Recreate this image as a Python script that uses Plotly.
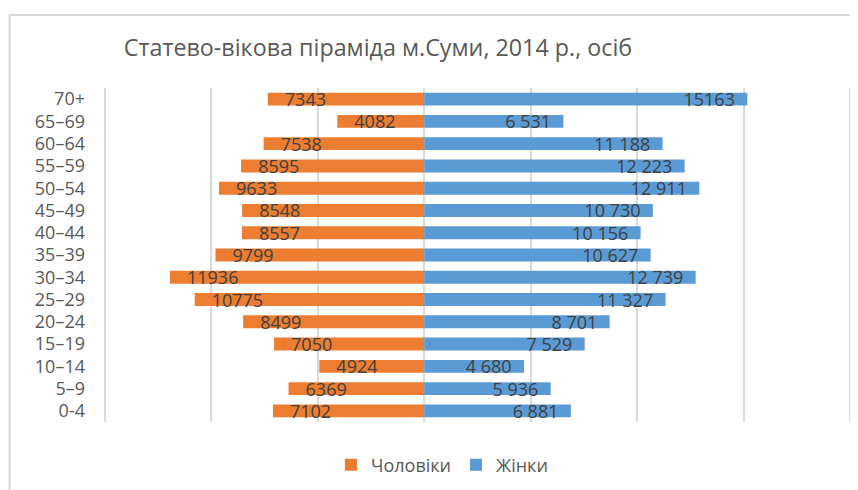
import plotly.graph_objects as go

age_groups = ["0-4", "5–9", "10–14", "15–19", "20–24", "25–29", "30–34", "35–39",
              "40–44", "45–49", "50–54", "55–59", "60–64", "65–69", "70+"]
men = [7102, 6369, 4924, 7050, 8499, 10775, 11936, 9799,
       8557, 8548, 9633, 8595, 7538, 4082, 7343]
women = [6881, 5936, 4680, 7529, 8701, 11327, 12739, 10627,
         10156, 10730, 12911, 12223, 11188, 6531, 15163]
men_labels = ["7102", "6369", "4924", "7050", "8499", "10775", "11936", "9799",
              "8557", "8548", "9633", "8595", "7538", "4082", "7343"]
women_labels = ["6 881", "5 936", "4 680", "7 529", "8 701", "11 327", "12 739", "10 627",
                "10 156", "10 730", "12 911", "12 223", "11 188", "6 531", "15163"]
title_text = "Статево-вікова піраміда м.Суми, 2014 р., осіб"

FONT = "Open Sans"
ORANGE = "#ED7D31"
BLUE = "#5B9BD5"
GRAY = "#595959"
PADL = "\u00a0\u00a0\u00a0"
PADR = "\u00a0\u00a0"

W, H = 858, 490
OFF = 8  # page body margin
XMIN, XMAX, XPAD = -15000, 20000, 500
scale = (850 - 105) / (XMAX - XMIN)
left_screen = 105 - XPAD * scale
right_screen = 850 + XPAD * scale
L = left_screen - OFF
R = W - (right_screen - OFF)
T = 88 - OFF
B = H - (422 - OFF)
pw, ph = W - L - R, H - T - B

def px_x(p):
    return (p - OFF - L) / pw

def px_y(p):
    return (H - B - (p - OFF)) / ph

fig = go.Figure()
fig.add_trace(go.Bar(
    y=age_groups, x=[-v for v in men], orientation="h", name="Чоловіки",
    marker=dict(color=ORANGE, line=dict(width=0)),
    text=[PADL + t for t in men_labels], textposition="inside", insidetextanchor="end",
    constraintext="none", textangle=0,
    textfont=dict(family=FONT, size=18, color="#404040"),
    hoverinfo="skip",
))
fig.add_trace(go.Bar(
    y=age_groups, x=women, orientation="h", name="Жінки",
    marker=dict(color=BLUE, line=dict(width=0)),
    text=[t + PADR for t in women_labels], textposition="inside", insidetextanchor="end",
    constraintext="none", textangle=0,
    textfont=dict(family=FONT, size=18, color="#404040"),
    hoverinfo="skip",
))

fig.update_layout(
    width=W, height=H,
    margin=dict(l=L, r=R, t=T, b=B, pad=0, autoexpand=False),
    paper_bgcolor="white", plot_bgcolor="white",
    barmode="relative", bargap=0.42,
    font=dict(family=FONT, color=GRAY),
    title=dict(text=title_text, x=(378 - OFF) / W, xanchor="center",
               y=1 - (48 - OFF) / H, yanchor="middle",
               font=dict(family=FONT, size=23.3, color=GRAY)),
    xaxis=dict(range=[XMIN - XPAD, XMAX + XPAD], dtick=5000, tick0=0, showticklabels=False,
               showgrid=True, gridcolor="#D9D9D9", gridwidth=2,
               zeroline=True, zerolinecolor="#D9D9D9", zerolinewidth=2,
               showline=False, fixedrange=True, automargin=False),
    yaxis=dict(categoryorder="array", categoryarray=age_groups, showgrid=False,
               zeroline=False, showline=False, ticks="", ticklen=0, automargin=False,
               ticklabelstandoff=int(round(left_screen - 86)),
               tickfont=dict(family=FONT, size=18, color=GRAY), fixedrange=True),
    legend=dict(orientation="h", x=px_x(442), xanchor="center", y=px_y(465), yanchor="middle",
                font=dict(family=FONT, size=18, color=GRAY), traceorder="normal",
                itemsizing="constant", itemwidth=30),
    showlegend=True,
    shapes=[dict(type="rect", xref="paper", yref="paper",
                 x0=px_x(10), x1=px_x(900), y0=px_y(15), y1=px_y(560),
                 line=dict(color="#D9D9D9", width=2), fillcolor="rgba(0,0,0,0)", layer="below")],
)

fig.write_html("out.html")
